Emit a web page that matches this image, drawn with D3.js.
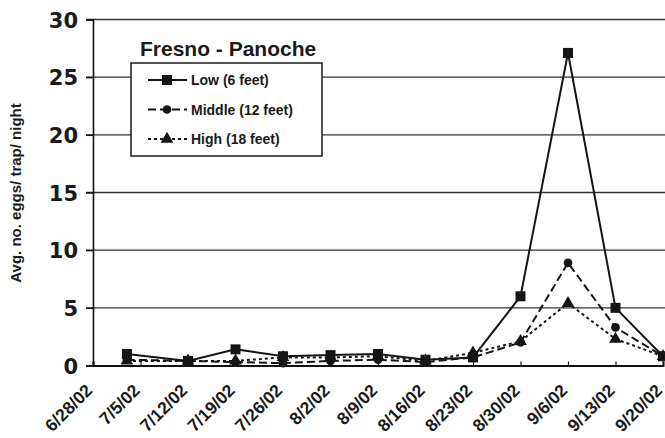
<!DOCTYPE html>
<html>
<head>
<meta charset="utf-8">
<script src="https://cdn.jsdelivr.net/npm/d3@7"></script>
<style>
  html, body { margin: 0; padding: 0; background: #fff; }
  svg { display: block; }
  text { font-family: "Liberation Sans", Arial, sans-serif; font-weight: bold; fill: #1a1a1a; }
</style>
</head>
<body>
<svg id="chart" width="665" height="438"></svg>
<script>
// Sampling dates and trap counts (avg. eggs per trap per night)
const sampleDates = ["7/3/02", "7/12/02", "7/19/02", "7/26/02", "8/2/02", "8/9/02",
                     "8/16/02", "8/23/02", "8/30/02", "9/6/02", "9/13/02", "9/20/02"];
const lowValues    = [1.0, 0.4, 1.4, 0.8, 0.9, 1.0, 0.5, 0.7, 6.0, 27.1, 5.0, 0.8];
const middleValues = [0.5, 0.4, 0.3, 0.2, 0.4, 0.5, 0.3, 0.7, 2.0, 8.9, 3.3, 0.8];
const highValues   = [0.4, 0.4, 0.4, 0.7, 0.7, 0.8, 0.4, 1.1, 2.1, 5.4, 2.3, 0.8];
const tickDates = ["6/28/02", "7/5/02", "7/12/02", "7/19/02", "7/26/02", "8/2/02", "8/9/02",
                   "8/16/02", "8/23/02", "8/30/02", "9/6/02", "9/13/02", "9/20/02"];
const yTicks = [0, 5, 10, 15, 20, 25, 30];

const parse = d3.timeParse("%-m/%-d/%y");
const svg = d3.select("#chart");

const x = d3.scaleTime()
  .domain([parse(tickDates[0]), parse(tickDates[tickDates.length - 1])])
  .range([93, 663]);
const y = d3.scaleLinear().domain([0, 30]).range([365.5, 19.5]);

// Horizontal gridlines
svg.append("g")
  .selectAll("line")
  .data(yTicks.filter(v => v > 0))
  .join("line")
  .attr("x1", 86).attr("x2", 665)
  .attr("y1", d => y(d)).attr("y2", d => y(d))
  .attr("stroke", "#333").attr("stroke-width", 1.4);

// Y axis
const yAxis = svg.append("g")
  .attr("transform", `translate(${x.range()[0]},0)`)
  .call(d3.axisLeft(y).tickValues(yTicks).tickSize(7).tickPadding(8));
yAxis.select(".domain").attr("stroke", "#111").attr("stroke-width", 1.6);
yAxis.selectAll(".tick line").attr("stroke", "#111").attr("stroke-width", 1.4);
yAxis.selectAll("text")
  .style("font-family", "'DejaVu Sans', sans-serif")
  .style("font-size", "21px")
  .attr("dy", "0.36em")
  .attr("fill", "#1a1a1a");

// X axis with inside ticks
const xAxis = svg.append("g")
  .attr("transform", `translate(0,${y(0)})`)
  .call(d3.axisBottom(x).tickValues(tickDates.map(parse)).tickSize(-4)
    .tickFormat(d3.timeFormat("%-m/%-d/%y")));
xAxis.select(".domain").attr("stroke", "#111").attr("stroke-width", 2);
xAxis.selectAll(".tick line").attr("stroke", "#111").attr("stroke-width", 1.2);
xAxis.selectAll("text")
  .style("font-size", "17.5px")
  .attr("text-anchor", "end")
  .attr("dy", "0")
  .attr("x", 0)
  .attr("y", 0)
  .attr("transform", "translate(0,26) rotate(-45)")
  .attr("fill", "#1a1a1a");

// Y axis title
svg.append("text")
  .attr("transform", "translate(21,193) rotate(-90)")
  .attr("text-anchor", "middle")
  .style("font-size", "15px")
  .text("Avg. no. eggs/ trap/ night");

// Series
const series = [
  { name: "Low (6 feet)",     values: lowValues,    dash: null,  marker: "square" },
  { name: "Middle (12 feet)", values: middleValues, dash: "8,4", marker: "circle" },
  { name: "High (18 feet)",   values: highValues,   dash: "3,3", marker: "triangle" }
];

const symbolFor = {
  square: d3.symbol().type(d3.symbolSquare).size(100),
  circle: d3.symbol().type(d3.symbolCircle).size(60),
  triangle: d3.symbol().type(d3.symbolTriangle).size(70)
};

const line = d3.line()
  .x(d => x(d.date))
  .y(d => y(d.value));

const drawOrder = [series[2], series[1], series[0]];
drawOrder.forEach(s => {
  const pts = sampleDates.map((d, i) => ({ date: parse(d), value: s.values[i] }));
  svg.append("path")
    .datum(pts)
    .attr("d", line)
    .attr("fill", "none")
    .attr("stroke", "#151515")
    .attr("stroke-width", 2)
    .attr("stroke-dasharray", s.dash);
  svg.append("g")
    .selectAll("path")
    .data(pts)
    .join("path")
    .attr("transform", d => `translate(${x(d.date)},${y(d.value)})`)
    .attr("d", symbolFor[s.marker])
    .attr("fill", "#151515");
});

// Chart title
svg.append("text")
  .attr("x", 140).attr("y", 56)
  .style("font-size", "21px")
  .text("Fresno - Panoche");

// Legend
const legend = svg.append("g");
legend.append("rect")
  .attr("x", 131).attr("y", 63).attr("width", 191).attr("height", 93)
  .attr("fill", "#fff").attr("stroke", "#1a1a1a").attr("stroke-width", 1.5);
series.forEach((s, i) => {
  const ly = 80 + i * 29.5;
  legend.append("line")
    .attr("x1", 148).attr("x2", 187).attr("y1", ly).attr("y2", ly)
    .attr("stroke", "#151515").attr("stroke-width", 2)
    .attr("stroke-dasharray", s.dash);
  legend.append("path")
    .attr("transform", `translate(167,${ly})`)
    .attr("d", symbolFor[s.marker])
    .attr("fill", "#151515");
  legend.append("text")
    .attr("x", 191).attr("y", ly + 5)
    .style("font-size", "14px")
    .text(s.name);
});
</script>
</body>
</html>
